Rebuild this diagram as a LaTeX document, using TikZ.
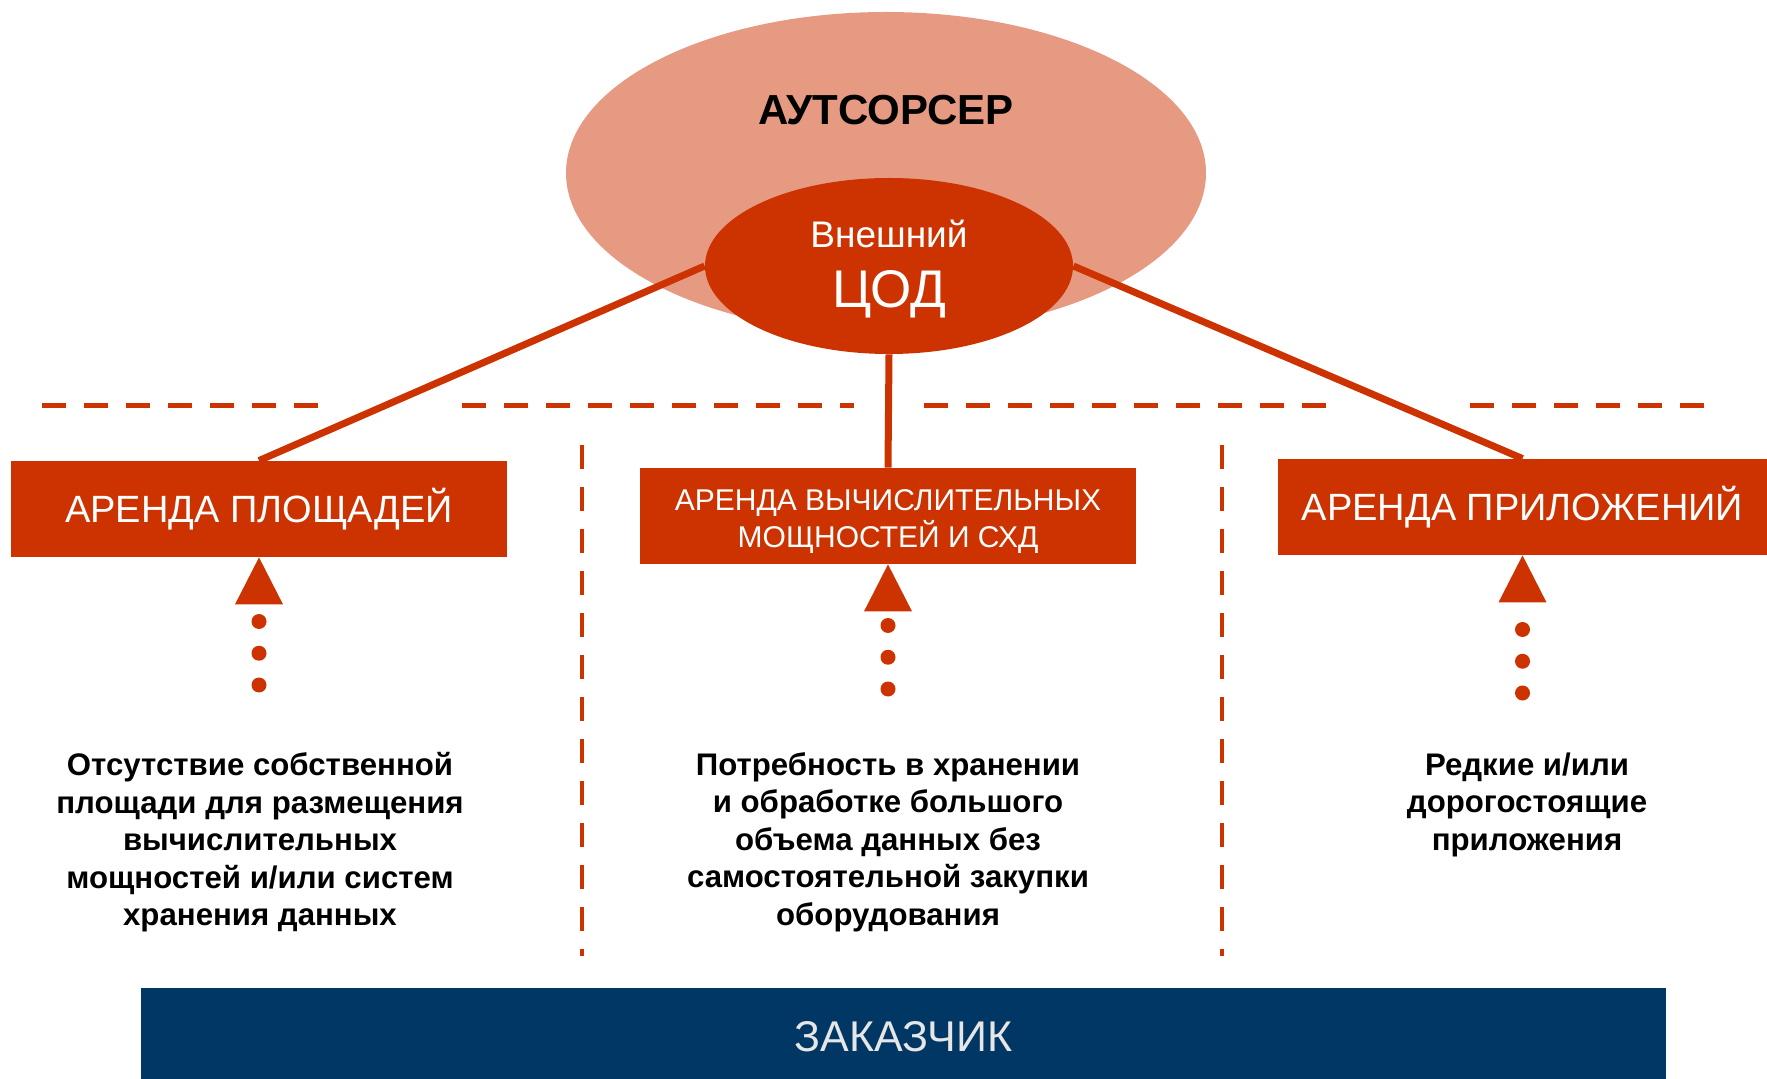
\documentclass[tikz,border=0pt]{standalone}
\usepackage{fontspec}
\setmainfont{Liberation Sans}
\usepackage{xcolor}
\usepackage{tikz}
\usetikzlibrary{positioning,shapes.geometric,arrows.meta}
\definecolor{rustred}{HTML}{CC3300}
\definecolor{salmon}{HTML}{E69A82}
\definecolor{navy}{HTML}{003764}
\definecolor{lightgrey}{HTML}{E6E6E6}

\begin{document}
\begin{tikzpicture}[x=0.5pt,y=-0.5pt,
  rentbox/.style={fill=rustred,text=white,minimum width=248pt,minimum height=48pt,inner sep=0pt,font=\fontsize{19}{23}\selectfont},
  link/.style={draw=rustred,line width=3.5pt},
  sepline/.style={draw=rustred,line width=2.5pt,dash pattern=on 12pt off 9pt},
  need/.style={draw=rustred,line width=7.5pt,line cap=round,dash pattern=on 0pt off 15.875pt,
    -{Triangle[length=23.5pt,width=24pt,line width=0pt]}},
  needtext/.style={anchor=north,align=center,inner sep=0pt,font=\bfseries\fontsize{15.6}{18.75}\selectfont}]
\useasboundingbox (0,0) rectangle (1767,1079);
% outsourcer
\node[ellipse,fill=salmon,minimum width=320pt,minimum height=161pt] (outs) at (886,173) {};
\node[anchor=base,font=\bfseries\fontsize{21}{25}\selectfont] (outsname) at (886,125) {АУТСОРСЕР};
\node[ellipse,fill=rustred,minimum width=184pt,minimum height=88pt] (cod) at (889,266) {};
\node[anchor=base,text=white,font=\fontsize{18.5}{22}\selectfont] (codtop) at (889,248) {Внешний};
\node[anchor=base,text=white,font=\fontsize{26.5}{30}\selectfont] (codname) at (889,308) {ЦОД};
% separators
\draw[sepline] (42,406) -- (318,406);
\draw[sepline] (462,406) -- (854,406);
\draw[sepline] (924,406) -- (1326,406);
\draw[sepline] (1470,406) -- (1704,406);
\draw[sepline,line width=2.2pt] (582,445) -- (582,956);
\draw[sepline,line width=2.2pt] (1222,445) -- (1222,956);
% services
\node[rentbox] (areas) at (259,509) {АРЕНДА ПЛОЩАДЕЙ};
\node[rentbox] (compute) at (888,516) {};
\node[text=white,align=center,inner sep=0pt,font=\fontsize{15}{18.5}\selectfont] (computetext) at (888,522) {АРЕНДА ВЫЧИСЛИТЕЛЬНЫХ\\МОЩНОСТЕЙ И СХД};
\node[rentbox,minimum width=244.5pt] (apps) at (1522.5,507) {АРЕНДА ПРИЛОЖЕНИЙ};
\draw[link] (cod.west) -- (areas.north);
\draw[link] (cod.south) -- (compute.north);
\draw[link] (cod.east) -- (apps.north);
% needs
\coordinate (needl) at (259,685);
\coordinate (needc) at (888,689);
\coordinate (needr) at (1522.5,693);
\draw[need] (needl) -- (areas.south);
\draw[need] (needc) -- (compute.south);
\draw[need] (needr) -- (apps.south);
\node[needtext] (needltext) at (260,752) {Отсутствие собственной\\площади для размещения\\вычислительных\\мощностей и/или систем\\хранения данных};
\node[needtext] (needctext) at (888,752) {Потребность в хранении\\и обработке большого\\объема данных без\\самостоятельной закупки\\оборудования};
\node[needtext] (needrtext) at (1527,752) {Редкие и/или\\дорогостоящие\\приложения};
% customer
\node[fill=navy,text=lightgrey,minimum width=762.5pt,minimum height=49pt,inner sep=0pt,font=\fontsize{21.5}{26}\selectfont] (client) at (903.5,1037) {ЗАКАЗЧИК};
\end{tikzpicture}
\end{document}
